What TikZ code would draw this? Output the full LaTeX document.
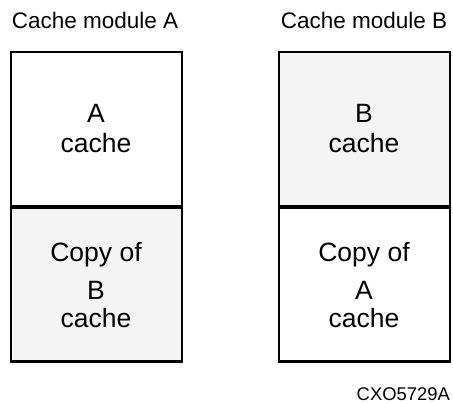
\documentclass[tikz,border=0pt]{standalone}
\usepackage{fontspec}
\setmainfont{Liberation Sans}
\definecolor{shade}{HTML}{F4F4F4}
\begin{document}
\begin{tikzpicture}[x=1pt,y=1pt,
  half/.style={draw=black, line width=2.6pt, minimum width=171pt, minimum height=154pt, inner sep=0pt, outer sep=0pt},
  title/.style={font=\fontsize{22.5}{27}\selectfont, anchor=base, inner sep=0pt},
  btext/.style={font=\fontsize{26.5}{30}\selectfont, anchor=base, inner sep=0pt},
  tag/.style={font=\fontsize{18.4}{22}\selectfont, anchor=base east, inner sep=0pt}]
\useasboundingbox (0,0) rectangle (453,404);
% boxes (y measured from top: 404 - py)
\node[half, fill=white] (atop) at (96.5,{404-129}) {};
\node[half, fill=shade] (abot) at (96.5,{404-284.5}) {};
\node[half, fill=shade] (btop) at (364.5,{404-129}) {};
\node[half, fill=white] (bbot) at (364.5,{404-284.5}) {};
% titles
\node[title] (ta) at (95,{404-29}) {Cache module A};
\node[title] (tb) at (364,{404-29}) {Cache module B};
% texts
\node[btext] (a1) at (96,{404-123}) {A};
\node[btext] (a2) at (96,{404-153}) {cache};
\node[btext] (c1) at (96,{404-262}) {Copy of};
\node[btext] (c2) at (96,{404-300}) {B};
\node[btext] (c3) at (96,{404-328}) {cache};
\node[btext] (b1) at (364,{404-123}) {B};
\node[btext] (b2) at (364,{404-153}) {cache};
\node[btext] (d1) at (364,{404-262}) {Copy of};
\node[btext] (d2) at (364,{404-300}) {A};
\node[btext] (d3) at (364,{404-328}) {cache};
\node[tag] (id) at (450,{404-401}) {CXO5729A};
\end{tikzpicture}
\end{document}
